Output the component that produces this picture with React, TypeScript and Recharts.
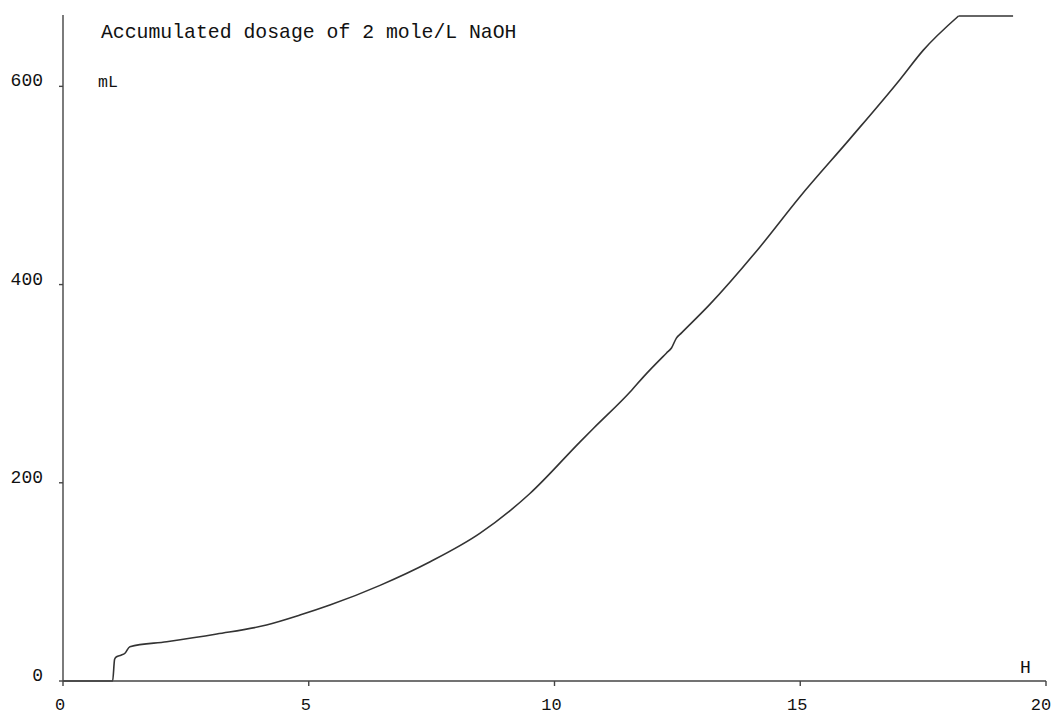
import React from 'react';
import { LineChart, Line, XAxis, YAxis } from 'recharts';

// Elapsed time (H) and accumulated NaOH dosage (mL)
const hours = [0, 1.01, 1.05, 1.09, 1.18, 1.26, 1.36, 2.11, 3.13, 4.14, 4.82, 5.43, 6.45, 7.47, 8.48, 9.5, 10.52, 10.79, 11.57, 11.81, 12.28, 12.38, 12.48, 12.58, 13.16, 14.18, 14.99, 16.01, 17.03, 17.5, 18.22, 19.33];
const dosage = [0, 0, 22, 24.5, 26, 28, 34.6, 39.6, 47.4, 56.5, 66.5, 76.6, 96.5, 120.3, 148.9, 189.2, 241.3, 254.8, 293.4, 306.9, 331, 336, 346, 351, 380, 438, 488.4, 547, 607, 636.3, 671, 671];

const xTicks = [0, 5, 10, 15, 20];
const yTicks = [0, 200, 400, 600];

// Dosing stops once the maximum is reached; that flat tail is drawn as a straight segment
const stopIndex = dosage.indexOf(Math.max(...dosage));

const data = hours.map((h, i) => ({
  h,
  dosing: i <= stopIndex ? dosage[i] : null,
  held: i >= stopIndex ? dosage[i] : null,
}));

const monoFont = '"Liberation Mono", "DejaVu Sans Mono", monospace';
const ink = '#111';

const XTick = (props: any) => {
  const { x, y, payload } = props;
  return (
    <text x={x - 3} y={y} dy={20} textAnchor="middle" fontFamily={monoFont} fontSize={17} fill={ink}>
      {payload.value}
    </text>
  );
};

const YTick = (props: any) => {
  const { x, y, payload } = props;
  return (
    <text x={x} y={y} textAnchor="end" fontFamily={monoFont} fontSize={18} fill={ink}>
      {payload.value}
    </text>
  );
};

export default function App() {
  return (
    <div style={{ position: 'absolute', left: 0, top: 0, width: 1052, height: 714, background: '#fff' }}>
      <LineChart width={1052} height={714} data={data} margin={{ top: 15, right: 6, bottom: 0, left: 0 }}>
        <XAxis
          dataKey="h"
          type="number"
          domain={[0, 20]}
          ticks={xTicks}
          tickSize={5}
          tickMargin={4}
          height={33}
          stroke="#444"
          strokeWidth={1.4}
          tick={<XTick />}
        />
        <YAxis
          type="number"
          domain={[0, 672]}
          ticks={yTicks}
          width={63}
          tickSize={4}
          tickMargin={16}
          stroke="#444"
          strokeWidth={1.4}
          tick={<YTick />}
        />
        <Line
          type="monotone"
          dataKey="dosing"
          stroke="#333"
          strokeWidth={1.6}
          dot={false}
          connectNulls={false}
          isAnimationActive={false}
        />
        <Line
          type="linear"
          dataKey="held"
          stroke="#333"
          strokeWidth={1.6}
          dot={false}
          connectNulls={false}
          isAnimationActive={false}
        />
      </LineChart>
      <div style={{ position: 'absolute', left: 101, top: 40, transform: 'translateY(-80%)', fontFamily: monoFont, fontSize: 19.8, lineHeight: 1, color: ink, whiteSpace: 'nowrap' }}>
        Accumulated dosage of 2 mole/L NaOH
      </div>
      <div style={{ position: 'absolute', left: 98, top: 88, transform: 'translateY(-80%)', fontFamily: monoFont, fontSize: 16.5, lineHeight: 1, color: ink }}>
        mL
      </div>
      <div style={{ position: 'absolute', left: 1020, top: 673, transform: 'translateY(-80%)', fontFamily: monoFont, fontSize: 18, lineHeight: 1, color: ink }}>
        H
      </div>
    </div>
  );
}
